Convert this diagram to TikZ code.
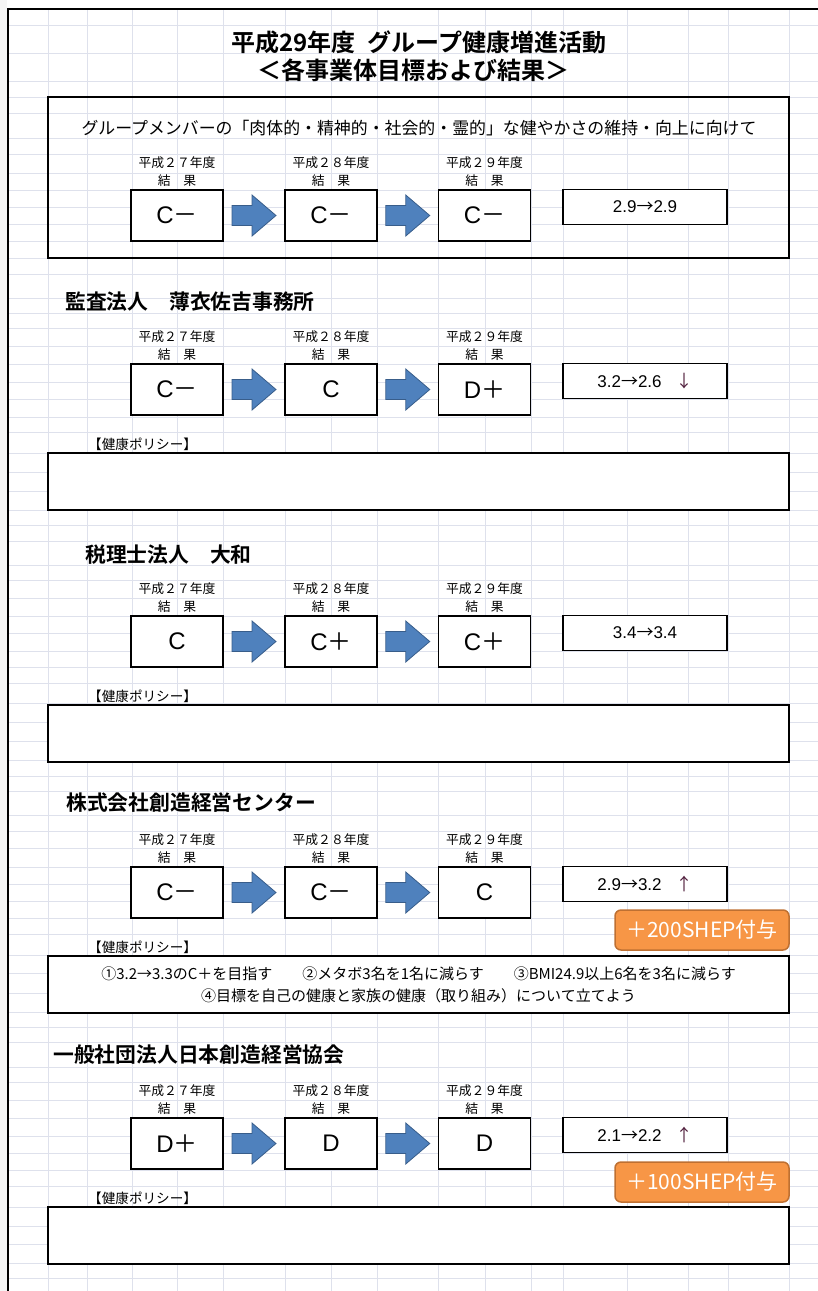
\documentclass[tikz,border=0pt]{standalone}
\usepackage{fontspec}
\setmainfont{Noto Sans CJK JP}[BoldFont={Noto Sans CJK JP Bold}]
\newfontfamily\jpfont{Noto Sans CJK JP}
\newfontfamily\latinfont{Liberation Sans}
\usepackage{tikz}
\usetikzlibrary{calc}
\definecolor{gridline}{RGB}{222,225,236}
\definecolor{arrowblue}{RGB}{79,129,189}
\definecolor{arrowedge}{RGB}{56,93,138}
\definecolor{badgeorange}{RGB}{247,150,70}
\definecolor{badgeedge}{RGB}{190,112,50}
\definecolor{trend}{RGB}{80,30,60}
\newcommand\gminus{{\jpfont －}}
\newcommand\gplus{{\jpfont ＋}}
\newcommand\toarrow{{\jpfont →}}
\newcommand\trendmark[1]{\hspace{14pt}\textcolor{trend}{\jpfont #1}}
\newcommand\blockarrow[2]{%
  \path (#1.east) -- coordinate (mid) (#2.west);
  \draw [arrowbody] ($(mid)+(-22,0)$) -- ++(0,-10) -- ++(20,0) -- ++(0,-10.5) -- ++(24,20.5)
    -- ++(-24,20.5) -- ++(0,-10.5) -- ++(-20,0) -- cycle;}
\tikzset{gradebox/.style={draw, line width=1.6pt, fill=white, minimum width=92pt, minimum height=51pt, inner sep=0pt, font=\latinfont\fontsize{24}{24}\selectfont},
  yearlabel/.style={align=center, inner sep=1pt, label distance=1pt, font=\fontsize{12.8}{18}\selectfont},
  scorebox/.style={draw, line width=1.4pt, fill=white, minimum width=164pt, minimum height=35pt, inner sep=0pt, font=\latinfont\fontsize{17}{17}\selectfont},
  policybox/.style={draw, line width=1.6pt, fill=white, minimum width=741pt, minimum height=57pt, inner sep=0pt},
  policylabel/.style={anchor=west, inner sep=0pt, font=\fontsize{13.6}{13.6}\selectfont},
  heading/.style={anchor=west, inner sep=0pt, font=\bfseries\fontsize{20.8}{20.8}\selectfont},
  badge/.style={draw=badgeedge, line width=1.5pt, fill=badgeorange, rounded corners=6pt, text=white, minimum width=174pt, minimum height=40pt, inner sep=0pt, font=\fontsize{21}{21}\selectfont},
  arrowbody/.style={fill=arrowblue, draw=arrowedge, line width=0.8pt, line join=miter}}

\begin{document}
\begin{tikzpicture}[x=1pt, y=-1pt]
  \useasboundingbox (0,0) rectangle (818,1291);
  \fill [gray!8] (0,0) rectangle (7,1291);
  % sheet grid
  \foreach \r in {25,53,81,97,113,138,154,173,190,207,224,241,258,274,298,313,328,346,364,382,399,417,432,453,472,491,510,525,541,565,580,598,616,633,651,667,683,703,722,741,760,776,791,815,831,848,867,884,901,918,934,955,973,993,1012,1027,1042,1067,1082,1100,1118,1136,1153,1170,1186,1207,1226,1244,1263,1278}
    \draw [gridline, line width=0.9pt] (8,\r) -- (818,\r);
  \foreach \c in {48,87,132,177,223,285,331,377,438,485,531,563,627,688,728,789}
    \draw [gridline, line width=0.9pt] (\c,9) -- (\c,1291);
  \draw [line width=2.4pt] (8,1291) -- (8,9) -- (818,9);

  \node [font=\bfseries\fontsize{24}{24}\selectfont] (title1) at (419,42) {平成29年度\hspace{0.5em}グループ健康増進活動};
  \node [font=\bfseries\fontsize{24}{24}\selectfont] (title2) at (413,70) {＜各事業体目標および結果＞};
  \node [draw, line width=1.6pt, minimum width=741pt, minimum height=161pt] (panel) at (418.5,177.5) {};
  \node [font=\fontsize{16.9}{16.9}\selectfont] (motto) at (419,128) {グループメンバーの「肉体的・精神的・社会的・霊的」な健やかさの維持・向上に向けて};

  \node [heading] (head2) at (65,302) {監査法人\hspace{1em}薄衣佐吉事務所};
  \node [heading] (head3) at (85,555) {税理士法人\hspace{1em}大和};
  \node [heading] (head4) at (66,803) {株式会社創造経営センター};
  \node [heading] (head5) at (53,1055) {一般社団法人日本創造経営協会};

  \foreach \s/\T/\ga/\gb/\gc/\sc in {1/190/C\gminus/C\gminus/C\gminus/{2.9\toarrow2.9},
      2/364/C\gminus/C/D\gplus/{3.2\toarrow2.6\trendmark{↓}},
      3/616/C/C\gplus/C\gplus/{3.4\toarrow3.4},
      4/867/C\gminus/C\gminus/C/{2.9\toarrow3.2\trendmark{↑}},
      5/1118/D\gplus/D/D/{2.1\toarrow2.2\trendmark{↑}}}{
    \node [gradebox, label={[yearlabel]above:平成２７年度\\結　果}] (g\s a) at (177,\T+25.5) {\ga};
    \node [gradebox, label={[yearlabel]above:平成２８年度\\結　果}] (g\s b) at (331,\T+25.5) {\gb};
    \node [gradebox, label={[yearlabel]above:平成２９年度\\結　果}] (g\s c) at (484.5,\T+25.5) {\gc};
    \node [scorebox] (score\s) at (645,\T+17) {\sc};
    \blockarrow{g\s a}{g\s b}
    \blockarrow{g\s b}{g\s c}
  }

  \foreach \s/\T in {2/364,3/616,4/867,5/1118}{
    \node [policylabel] (plabel\s) at (88,\T+80) {【健康ポリシー】};
    \node [policybox] (policy\s) at (418.5,\T+117.5) {};
  }
  \node [align=center, font=\fontsize{15}{22}\selectfont] (policytext4) at (policy4.center)
    {①3.2→3.3のC＋を目指す\hspace{2em}②メタボ3名を1名に減らす\hspace{2em}③BMI24.9以上6名を3名に減らす\\
     ④目標を自己の健康と家族の健康（取り組み）について立てよう};

  \node [badge] (bonus4) at (702,930) {＋200SHEP付与};
  \node [badge] (bonus5) at (702,1182) {＋100SHEP付与};
\end{tikzpicture}
\end{document}
